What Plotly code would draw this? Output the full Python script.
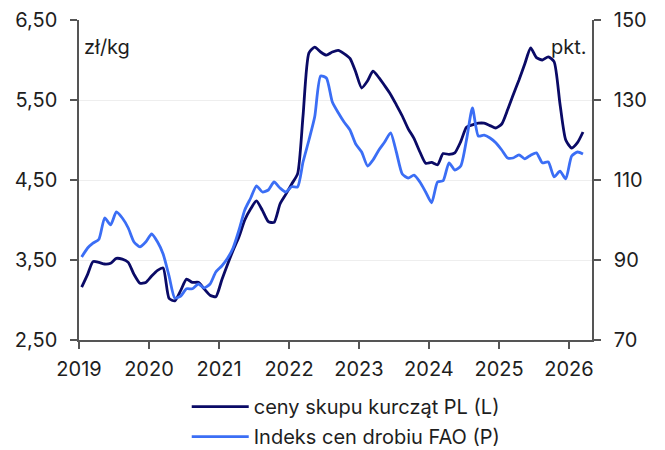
import pandas as pd
import plotly.graph_objects as go

dates = pd.date_range("2019-01-01", periods=87, freq="MS") + pd.Timedelta(days=14)

pl_prices = [3.16, 3.32, 3.48, 3.47, 3.45, 3.46, 3.52, 3.51, 3.47, 3.32, 3.21, 3.22,
             3.30, 3.37, 3.40, 3.02, 2.99, 3.12, 3.26, 3.22, 3.22, 3.14, 3.06, 3.04,
             3.25, 3.45, 3.62, 3.79, 4.00, 4.14, 4.24, 4.12, 3.98, 3.97, 4.20, 4.32,
             4.45, 4.58, 5.30, 6.09, 6.16, 6.10, 6.06, 6.10, 6.12, 6.08, 6.02, 5.85,
             5.65, 5.74, 5.86, 5.78, 5.68, 5.57, 5.44, 5.30, 5.14, 5.02, 4.85, 4.71,
             4.72, 4.69, 4.83, 4.82, 4.84, 4.98, 5.16, 5.19, 5.21, 5.21, 5.18, 5.15,
             5.20, 5.38, 5.56, 5.75, 5.95, 6.15, 6.03, 6.00, 6.04, 5.98, 5.45, 5.00,
             4.90, 4.97, 5.10]

fao_index = [90.75, 93.0, 94.2, 95.2, 100.5, 98.8, 102.0, 100.5, 98.0, 94.5, 93.3, 94.5,
             96.5, 94.5, 91.5, 86.0, 80.5, 81.0, 82.8, 82.8, 84.0, 83.0, 84.0, 87.0,
             88.5, 90.5, 93.0, 97.5, 102.5, 105.5, 108.5, 107.0, 107.5, 109.5, 108.0, 107.0,
             108.3, 108.3, 114.5, 120.0, 125.8, 136.0, 135.5, 129.5, 126.8, 124.5, 122.5, 119.0,
             117.0, 113.5, 115.0, 117.5, 119.5, 121.8, 117.0, 111.5, 110.5, 111.2, 109.5, 107.0,
             104.3, 109.5, 109.8, 114.3, 112.5, 113.5, 120.0, 128.0, 121.0, 121.2, 120.5, 119.3,
             117.5, 115.5, 115.5, 116.3, 115.3, 116.2, 116.8, 114.3, 114.5, 110.8, 112.2, 110.3,
             116.0, 117.0, 116.5]

left_ticks = [2.5, 3.5, 4.5, 5.5, 6.5]
right_ticks = [70, 90, 110, 130, 150]
year_ticks = [f"{y}-01-01" for y in range(2019, 2027)]
year_labels = [str(y) for y in range(2019, 2027)]

navy = "#0a0a66"
blue = "#3b6ef5"
axis_col = "#555555"
text_col = "#1e1e1e"
font_family = "Inter, Lato, sans-serif"
fs = 20

fig = go.Figure()
fig.add_trace(go.Scatter(x=dates, y=pl_prices, name="ceny skupu kurcząt PL (L)",
                         mode="lines", line=dict(color=navy, width=2.8, shape="spline", smoothing=0.6),
                         legendgroup="a", yaxis="y"))
fig.add_trace(go.Scatter(x=dates, y=fao_index, name="Indeks cen drobiu FAO (P)",
                         mode="lines", line=dict(color=blue, width=2.8, shape="spline", smoothing=0.6),
                         legendgroup="b", yaxis="y2"))

fig.update_layout(
    width=665, height=450,
    margin=dict(l=79, r=73, t=20, b=110, autoexpand=False),
    paper_bgcolor="white", plot_bgcolor="white",
    separators=", ",
    font=dict(family=font_family, size=fs, color=text_col),
    showlegend=True,
    legend=dict(x=0.21, y=-0.147, xanchor="left", yanchor="top", orientation="v",
                traceorder="grouped", tracegroupgap=1, itemwidth=57,
                font=dict(size=20, color=text_col), bgcolor="rgba(0,0,0,0)"),
    xaxis=dict(type="date", range=["2019-01-01", "2026-05-01"],
               tickvals=year_ticks, ticktext=year_labels,
               showgrid=False, showline=True, linecolor=axis_col, linewidth=1.5,
               ticks="outside", ticklen=7, tickcolor=axis_col, tickwidth=1.5,
               ticklabelstandoff=3,
               tickfont=dict(size=fs), zeroline=False, automargin=False),
    yaxis=dict(range=[2.5, 6.5], tickvals=left_ticks, tickformat=".2f",
               showgrid=True, gridcolor="#eeeeee", gridwidth=1,
               showline=True, linecolor=axis_col, linewidth=1.5,
               ticks="outside", ticklen=7, tickcolor=axis_col, tickwidth=1.5,
               ticklabelstandoff=9,
               tickfont=dict(size=fs), zeroline=False, automargin=False),
    yaxis2=dict(range=[70, 150], tickvals=right_ticks, overlaying="y", side="right",
                showgrid=False, showline=True, linecolor=axis_col, linewidth=1.5,
                ticks="outside", ticklen=7, tickcolor=axis_col, tickwidth=1.5,
                ticklabelstandoff=9,
                tickfont=dict(size=fs), zeroline=False, automargin=False),
    annotations=[
        dict(text="zł/kg", x=0.006, y=0.96, xref="paper", yref="paper",
             xanchor="left", yanchor="top", showarrow=False, font=dict(size=fs, color=text_col)),
        dict(text="pkt.", x=0.994, y=0.96, xref="paper", yref="paper",
             xanchor="right", yanchor="top", showarrow=False, font=dict(size=fs, color=text_col)),
    ],
)

fig.write_html("out.html", config={"displayModeBar": False},
               post_script="document.body.style.margin='0';document.body.style.padding='0';document.body.style.overflow='hidden';")
